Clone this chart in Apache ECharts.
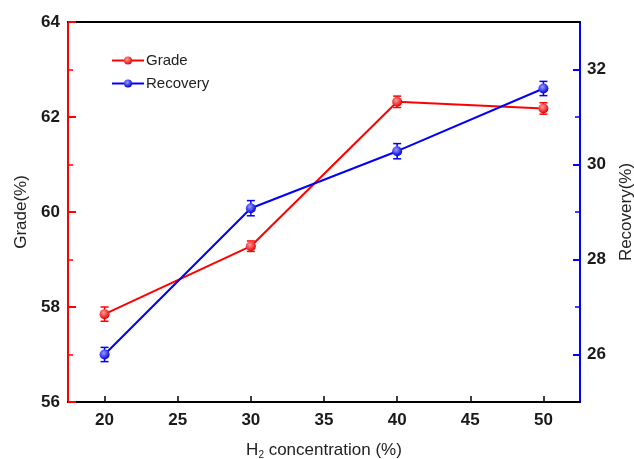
<!DOCTYPE html>
<html>
<head>
<meta charset="utf-8">
<script src="https://cdn.jsdelivr.net/npm/echarts@6/dist/echarts.min.js"></script>
<style>
  html, body { margin: 0; padding: 0; background: #fff; }
  #chart { width: 634px; height: 459px; }
</style>
</head>
<body>
<div id="chart"></div>
<script>
// H2 concentration (%) on the x axis
const concentrations = [20, 30, 40, 50];
// Grade (%) on the left axis, with error half-widths
const grade = [57.85, 59.28, 62.32, 62.18];
const gradeErr = [0.15, 0.11, 0.12, 0.12];
// Recovery (%) on the right axis, with error half-widths
const recovery = [26.0, 29.08, 30.28, 31.6];
const recoveryErr = [0.15, 0.16, 0.16, 0.15];
// Tick positions
const xTicks = [20, 25, 30, 35, 40, 45, 50];
const recoveryMajorTicks = [26, 28, 30, 32];
const recoveryMinorTicks = [27, 29, 31];

const RED = '#ff0000';
const BLUE = '#0000ff';
const TEXT = '#1a1a1a';
const FONT = '"Liberation Sans", Arial, sans-serif';

function sphere(light, base) {
  return {
    type: 'radial', x: 0.4, y: 0.35, r: 0.65,
    colorStops: [{ offset: 0, color: light }, { offset: 1, color: base }]
  };
}

function errorBars(values, errs) {
  return concentrations.map((x, i) => [x, values[i] - errs[i], values[i] + errs[i]]);
}

function errorBarRenderer(color) {
  return function (params, api) {
    const x = api.value(0);
    const lo = api.coord([x, api.value(1)]);
    const hi = api.coord([x, api.value(2)]);
    const half = 4;
    const style = { stroke: color, lineWidth: 1.5 };
    return {
      type: 'group',
      children: [
        { type: 'line', shape: { x1: lo[0], y1: lo[1], x2: hi[0], y2: hi[1] }, style },
        { type: 'line', shape: { x1: lo[0] - half, y1: lo[1], x2: lo[0] + half, y2: lo[1] }, style },
        { type: 'line', shape: { x1: hi[0] - half, y1: hi[1], x2: hi[0] + half, y2: hi[1] }, style }
      ]
    };
  };
}

const chart = echarts.init(document.getElementById('chart'), null, { renderer: 'canvas' });

chart.setOption({
  animation: false,
  backgroundColor: '#fff',
  grid: { left: 68, right: 54, top: 22, bottom: 57, outerBoundsMode: 'none', containLabel: false },
  legend: {
    data: ['Grade', 'Recovery'],
    orient: 'vertical',
    left: 111,
    top: 53,
    padding: 0,
    itemWidth: 32,
    itemHeight: 10,
    itemGap: 8,
    textStyle: { fontFamily: FONT, fontSize: 15, color: '#222', padding: [0, 0, 0, -3] }
  },
  xAxis: [
    {
      type: 'value',
      min: 17.5,
      max: 52.5,
      name: 'H{sub|2} concentration (%)',
      nameLocation: 'middle',
      nameGap: 38,
      nameTextStyle: {
        fontFamily: FONT, fontSize: 17, color: '#222',
        rich: { sub: { fontFamily: FONT, fontSize: 10, color: '#222', verticalAlign: 'bottom', padding: [10, 0, 0, 0] } }
      },
      splitLine: { show: false },
      axisLine: { show: true, onZero: false, lineStyle: { color: '#000', width: 2 } },
      axisTick: { show: true, inside: true, length: 6, customValues: xTicks, lineStyle: { color: '#000', width: 1.5 } },
      axisLabel: { customValues: xTicks, margin: 10, fontFamily: FONT, fontSize: 17, fontWeight: 'bold', color: TEXT }
    },
    {
      // top frame line
      type: 'value',
      position: 'top',
      min: 17.5,
      max: 52.5,
      splitLine: { show: false },
      axisLine: { show: true, onZero: false, lineStyle: { color: '#000', width: 2 } },
      axisTick: { show: false },
      axisLabel: { show: false }
    }
  ],
  yAxis: [
    {
      type: 'value',
      position: 'left',
      min: 56,
      max: 64,
      interval: 2,
      name: 'Grade(%)',
      nameLocation: 'middle',
      nameRotate: 90,
      nameGap: 38,
      nameTextStyle: { fontFamily: FONT, fontSize: 17, color: '#222' },
      splitLine: { show: false },
      axisLine: { show: true, onZero: false, lineStyle: { color: RED, width: 2 } },
      axisTick: { show: true, inside: true, length: 8, lineStyle: { color: RED, width: 2 } },
      minorTick: { show: true, splitNumber: 2, length: 5, lineStyle: { color: RED, width: 1.5 } },
      axisLabel: { margin: 8, fontFamily: FONT, fontSize: 17, fontWeight: 'bold', color: TEXT }
    },
    {
      type: 'value',
      position: 'right',
      min: 25,
      max: 33,
      name: 'Recovery(%)',
      nameLocation: 'middle',
      nameRotate: 90,
      nameGap: 38,
      nameTextStyle: { fontFamily: FONT, fontSize: 17, color: '#222' },
      splitLine: { show: false },
      axisLine: { show: true, onZero: false, lineStyle: { color: BLUE, width: 2 } },
      axisTick: { show: true, inside: true, length: 7, customValues: recoveryMajorTicks, lineStyle: { color: BLUE, width: 2 } },
      axisLabel: { customValues: recoveryMajorTicks, margin: 7, fontFamily: FONT, fontSize: 17, fontWeight: 'bold', color: TEXT }
    },
    {
      // minor ticks for the recovery axis
      type: 'value',
      position: 'right',
      min: 25,
      max: 33,
      splitLine: { show: false },
      axisLine: { show: false },
      axisTick: { show: true, inside: true, length: 5, customValues: recoveryMinorTicks, lineStyle: { color: BLUE, width: 1.5 } },
      axisLabel: { show: false }
    }
  ],
  series: [
    {
      name: 'Grade-err',
      type: 'custom',
      yAxisIndex: 0,
      z: 1,
      renderItem: errorBarRenderer(RED),
      data: errorBars(grade, gradeErr)
    },
    {
      name: 'Recovery-err',
      type: 'custom',
      yAxisIndex: 1,
      z: 1,
      renderItem: errorBarRenderer(BLUE),
      data: errorBars(recovery, recoveryErr)
    },
    {
      name: 'Grade',
      type: 'line',
      yAxisIndex: 0,
      z: 3,
      data: concentrations.map((x, i) => [x, grade[i]]),
      symbol: 'circle',
      symbolSize: 10,
      lineStyle: { color: RED, width: 2 },
      itemStyle: { color: sphere('#ff9b9b', '#e60000'), borderWidth: 0 }
    },
    {
      name: 'Recovery',
      type: 'line',
      yAxisIndex: 1,
      z: 3,
      data: concentrations.map((x, i) => [x, recovery[i]]),
      symbol: 'circle',
      symbolSize: 10,
      lineStyle: { color: BLUE, width: 2 },
      itemStyle: { color: sphere('#9a9aff', '#0000dd'), borderWidth: 0 }
    }
  ]
});
</script>
</body>
</html>
